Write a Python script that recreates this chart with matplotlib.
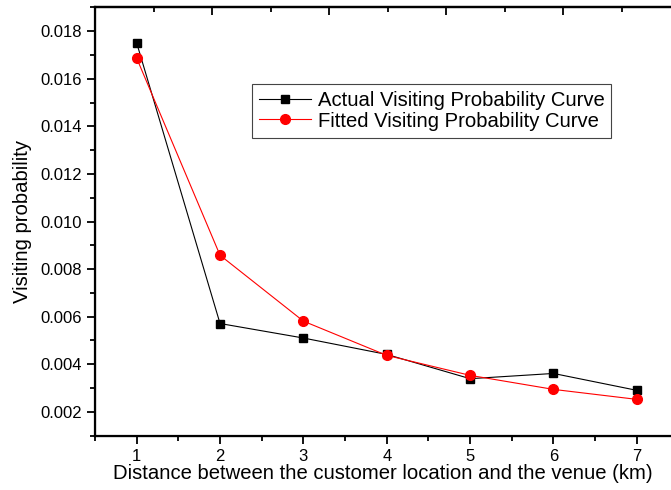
import numpy as np
import matplotlib.pyplot as plt
from matplotlib.ticker import MultipleLocator, FixedLocator

plt.rcParams['font.family'] = ['Liberation Sans', 'DejaVu Sans']

# data
distance = [1, 2, 3, 4, 5, 6, 7]
actual = [0.01751, 0.00571, 0.00510, 0.00441, 0.00339, 0.00361, 0.00290]
fitted = [0.01687, 0.00858, 0.00581, 0.00437, 0.00353, 0.00294, 0.00252]

fig = plt.figure(figsize=(6.71, 4.90), dpi=100)
ax = fig.add_axes([95 / 671, 54 / 490, 576 / 671, 429 / 490])

ax.plot(distance, actual, color='black', lw=0.8, marker='s', ms=6,
        label='Actual Visiting Probability Curve')
ax.plot(distance, fitted, color='red', lw=0.8, marker='o', ms=7,
        label='Fitted Visiting Probability Curve')

ax.set_xlim(0.5, 7.41)
ax.set_ylim(0.00098, 0.01902)
ax.xaxis.set_major_locator(MultipleLocator(1))
ax.xaxis.set_minor_locator(MultipleLocator(0.5))
ax.yaxis.set_major_locator(MultipleLocator(0.002))
ax.yaxis.set_minor_locator(MultipleLocator(0.001))
ax.yaxis.set_major_formatter(plt.FormatStrFormatter('%.3f'))

ax.tick_params(which='both', direction='out', width=1.3, labelsize=12,
               top=False, right=False)
ax.tick_params(which='major', length=6)
ax.tick_params(which='minor', length=3.5)
ax.tick_params(axis='x', pad=3)

for s in ['left', 'bottom', 'top']:
    ax.spines[s].set_linewidth(1.6)
ax.spines['right'].set_visible(False)

# top axis ticks (inward, no labels)
ax2 = ax.twiny()
ax2.set_xlim(-1, 3.92)
ax2.xaxis.set_major_locator(FixedLocator([0, 1, 2, 3]))
ax2.xaxis.set_minor_locator(FixedLocator([-0.5, 0.5, 1.5, 2.5, 3.5]))
ax2.tick_params(which='both', direction='in', width=1.3, labeltop=False)
ax2.tick_params(which='major', length=6)
ax2.tick_params(which='minor', length=3.5)
ax2.spines['right'].set_visible(False)
ax2.spines['top'].set_linewidth(1.6)

ax.set_xlabel('Distance between the customer location and the venue (km)',
              fontsize=14.6, labelpad=0)
ax.set_ylabel('Visiting probability', fontsize=14.6, labelpad=6)

leg = ax.legend(loc='upper left', bbox_to_anchor=(0.272, 0.8205),
                borderaxespad=0, fontsize=14.6, handlelength=2.6,
                fancybox=False, framealpha=1, edgecolor='#444444',
                borderpad=0.35, labelspacing=0.07, handletextpad=0.3)
leg.get_frame().set_linewidth(0.8)

fig.savefig('out.png', dpi=100)
